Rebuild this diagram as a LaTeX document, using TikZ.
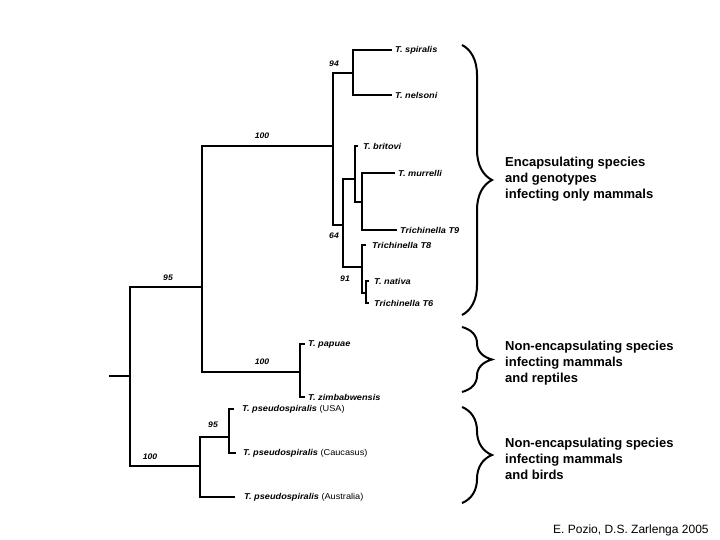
\documentclass[tikz,border=0pt]{standalone}
\usepackage{fontspec}
\setmainfont{Liberation Sans}
\newfontfamily\spfont[FakeStretch=1.08]{Liberation Sans}
\usetikzlibrary{decorations.pathreplacing}
\begin{document}
\begin{tikzpicture}[x=1pt,y=-1pt,
  br/.style={line width=2.2pt},
  tw/.style={line width=1.4pt},
  leaf/.style={anchor=west, inner xsep=3pt, inner ysep=0pt, font=\spfont\bfseries\itshape\fontsize{8.5}{10}\selectfont},
  bs/.style={font=\spfont\bfseries\itshape\fontsize{8}{9}\selectfont, inner sep=0pt},
  grp/.style={anchor=west, align=left, inner sep=0pt, font=\bfseries\fontsize{13}{16}\selectfont},
  curly/.style={decorate, decoration={brace, amplitude=30pt, aspect=0.5}, line width=2pt}]
\useasboundingbox (0,0) rectangle (720,540);
\fill[white] (0,0) rectangle (720,540);

% internal nodes
\coordinate (stub) at (109,376);
\coordinate (root) at (130,376);
\coordinate (A) at (202,287);
\coordinate (B) at (200,466);
\coordinate (C) at (333,146);
\coordinate (P) at (300,372);
\coordinate (n94) at (353,73);
\coordinate (n64) at (343,225);
\coordinate (D) at (355,179);
\coordinate (E) at (362,202);
\coordinate (n91) at (362,267);
\coordinate (F) at (366,293);
\coordinate (G) at (229,437);

% leaves
\node[leaf] (spi) at (392,50) {T. spiralis};
\node[leaf] (nel) at (392,95) {T. nelsoni};
\node[leaf, inner xsep=5pt] (bri) at (358,146) {T. britovi};
\node[leaf] (mur) at (395,173) {T. murrelli};
\node[leaf] (t9) at (397,230) {Trichinella T9};
\node[leaf, inner xsep=6pt] (t8) at (366,245) {Trichinella T8};
\node[leaf, inner xsep=5pt] (nat) at (369,281) {T. nativa};
\node[leaf, inner xsep=5pt] (t6) at (369,303) {Trichinella T6};
\node[leaf] (pap) at (305,344) {T. papuae};
\node[leaf] (zim) at (305,397) {T. zimbabwensis};
\node[leaf, inner xsep=8pt] (usa) at (234,409) {T. pseudospiralis {\mdseries\upshape (USA)}};
\node[leaf, inner xsep=7pt] (cau) at (236,453) {T. pseudospiralis {\mdseries\upshape (Caucasus)}};
\node[leaf, inner xsep=9pt] (aus) at (235,497) {T. pseudospiralis {\mdseries\upshape (Australia)}};

% bootstrap values
\node[bs] (b94) at (334,64) {94};
\node[bs] (b100a) at (262,136) {100};
\node[bs] (b95a) at (168,278) {95};
\node[bs] (b64) at (334,236) {64};
\node[bs] (b91) at (345,279) {91};
\node[bs] (b100b) at (262,362) {100};
\node[bs] (b95b) at (213,425) {95};
\node[bs] (b100c) at (150,457) {100};

% tree edges
\draw[br] (stub) -- (root);
\draw[br] (root) |- (A);
\draw[br] (root) |- (B);
\draw[br] (A) |- (C);
\draw[br] (A) |- (P);
\draw[br] (C) |- (n94);
\draw[br] (C) |- (n64);
\draw[br] (n94) |- (spi.west);
\draw[br] (n94) |- (nel.west);
\draw[tw] (n64) |- (D);
\draw[tw] (n64) |- (n91);
\draw[tw] (D) |- (bri.west);
\draw[tw] (D) |- (E);
\draw[tw] (E) |- (mur.west);
\draw[tw] (E) |- (t9.west);
\draw[tw] (n91) |- (t8.west);
\draw[tw] (n91) |- (F);
\draw[tw] (F) |- (nat.west);
\draw[tw] (F) |- (t6.west);
\draw[br] (P) |- (pap.west);
\draw[br] (P) |- (zim.west);
\draw[br] (B) |- (G);
\draw[br] (B) |- (aus.west);
\draw[br] (G) |- (usa.west);
\draw[br] (G) |- (cau.west);

% braces and group labels
\draw[curly] (462,45) -- (462,315);
\draw[curly] (462,327) -- (462,392);
\draw[curly] (462,407) -- (462,503);
\node[grp] (g1) at (505,179) {Encapsulating species\\and genotypes\\infecting only mammals};
\node[grp] (g2) at (505,363) {Non-encapsulating species\\infecting mammals\\and reptiles};
\node[grp] (g3) at (505,459) {Non-encapsulating species\\infecting mammals\\and birds};

\node[anchor=west, inner sep=0pt, font=\fontsize{12}{14}\selectfont] (cr) at (553,530) {E. Pozio, D.S. Zarlenga 2005};
\end{tikzpicture}
\end{document}
